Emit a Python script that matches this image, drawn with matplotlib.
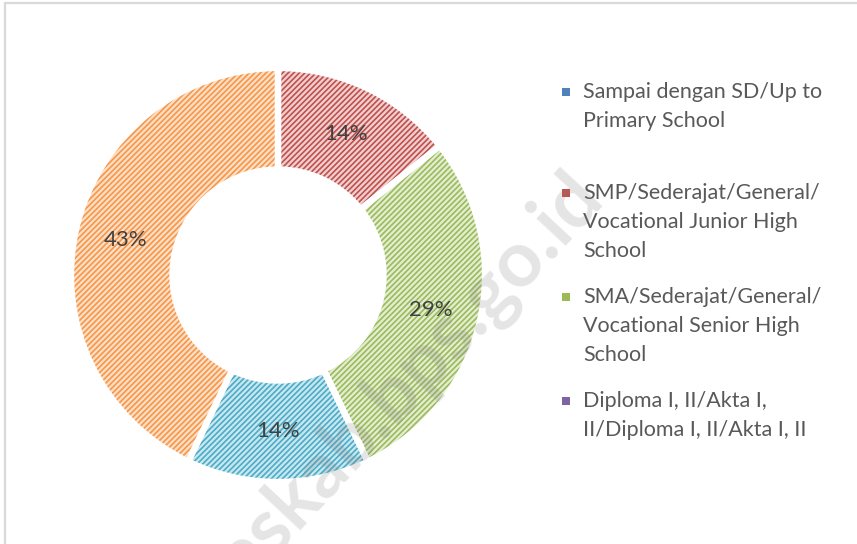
import matplotlib.pyplot as plt
from matplotlib.patches import Rectangle

# counts per education level (7 respondents -> 14%, 29%, 14%, 43%)
categories = [
    "Sampai dengan SD/Up to\nPrimary School",
    "SMP/Sederajat/General/\nVocational Junior High\nSchool",
    "SMA/Sederajat/General/\nVocational Senior High\nSchool",
    "Diploma I, II/Akta I,\nII/Diploma I, II/Akta I, II",
    "Akademi/Diploma III",
    "Diploma IV/S1/S2/S3",
]
counts = [0, 1, 2, 0, 1, 3]
legend_shown = 4

line_colors = ["#4f81bd", "#c0504d", "#9bbb59", "#8064a2", "#4bacc6", "#f79646"]
face_colors = ["#d3dff0", "#f0d0cf", "#e3edd2", "#ddd5e8", "#c8e7f0", "#fddfc8"]

W, H = 857, 544
plt.rcParams["font.family"] = ["Lato", "DejaVu Sans"]
plt.rcParams["hatch.linewidth"] = 1.2

fig = plt.figure(figsize=(W / 100, H / 100), dpi=100)

# chart border (only left and top edges fall inside the crop)
fig.patches.append(Rectangle((5 / W, -0.1), 1.2, 1.1 - 3 / H,
                             transform=fig.transFigure, fill=False,
                             edgecolor="#d9d9d9", linewidth=1.6))

cx, cy, r = 278, H - 275, 207
ax = fig.add_axes([(cx - r) / W, (cy - r) / H, 2 * r / W, 2 * r / H])
ring = 0.49

ax.pie(counts, colors=face_colors, startangle=90, counterclock=False,
       radius=1, wedgeprops=dict(width=ring, linewidth=0))
hatched, _ = ax.pie(counts, colors=["none"] * len(counts), startangle=90,
                    counterclock=False, radius=1,
                    wedgeprops=dict(width=ring, linewidth=0))
for w, c in zip(hatched, line_colors):
    w.set_hatch("//////")
    w.set_edgecolor(c)
    w.set_linewidth(0)
wedges, texts = ax.pie(
    counts, colors=["none"] * len(counts), startangle=90, counterclock=False,
    radius=1, wedgeprops=dict(width=ring, edgecolor="white", linewidth=4.5),
    labels=[f"{v / sum(counts):.0%}" if v else "" for v in counts],
    labeldistance=0.755, textprops=dict(fontsize=16, color="#404040",
                                        ha="center", va="center"))
ax.set_xlim(-1, 1)
ax.set_ylim(-1, 1)
ax.set_aspect("equal")
ax.axis("off")

# legend, drawn in pixel positions to mimic the Excel layout
entry_tops = [92, 193, 297, 401]
for i in range(legend_shown):
    y0 = entry_tops[i]
    fig.patches.append(Rectangle(((566 - 4) / W, (H - y0 - 4) / H), 8 / W, 8 / H,
                                 transform=fig.transFigure,
                                 facecolor=line_colors[i], edgecolor="none"))
    for j, line in enumerate(categories[i].split("\n")):
        fig.text(583 / W, (H - y0 - 29 * j) / H, line, fontsize=15.5,
                 color="#595959", ha="left", va="center")

# watermark
fig.text(590 / W, (H - 186) / H, "askab.bps.go.id", fontsize=56,
         fontweight="bold", color="#7f7f7f", alpha=0.2,
         rotation=47, rotation_mode="anchor", ha="right", va="center")

fig.savefig("out.png", dpi=100)
